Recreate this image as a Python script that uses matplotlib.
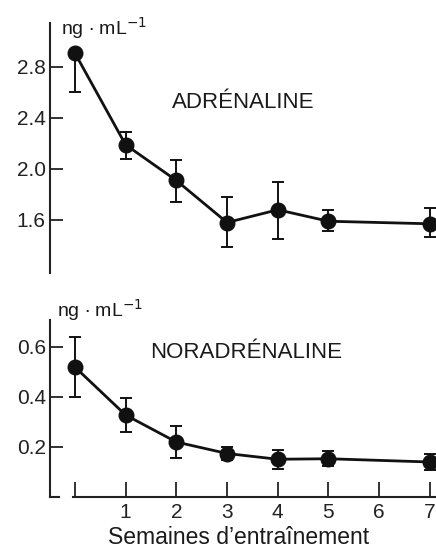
import matplotlib
matplotlib.use("Agg")
import matplotlib.pyplot as plt
from matplotlib.lines import Line2D

plt.rcParams['font.family'] = ['Liberation Sans', 'DejaVu Sans']

weeks = [0, 1, 2, 3, 4, 5, 7]
adr_mean = [2.91, 2.19, 1.91, 1.58, 1.68, 1.59, 1.57]
adr_err_low = [0.31, 0.11, 0.17, 0.19, 0.23, 0.08, 0.10]
adr_err_high = [0.0, 0.10, 0.16, 0.20, 0.22, 0.09, 0.12]
nor_mean = [0.52, 0.328, 0.22, 0.174, 0.151, 0.153, 0.14]
nor_err = [0.12, 0.067, 0.063, 0.027, 0.038, 0.030, 0.031]
adr_ticks = [1.6, 2.0, 2.4, 2.8]
adr_ticklabels = ['1.6', '2.0', '2.4', '2.8']
nor_ticks = [0.2, 0.4, 0.6]
nor_ticklabels = ['0.2', '0.4', '0.6']
x_ticks = [0, 1, 2, 3, 4, 5, 6, 7]
x_ticklabels = ['', '1', '2', '3', '4', '5', '6', '7']

W, H = 436, 551
fig = plt.figure(figsize=(W / 100, H / 100), dpi=100)

def rect(l, t, r, b):
    return [l / W, 1 - b / H, (r - l) / W, (b - t) / H]

xlim = (-0.49, 7.12)
tc = '#1a1a1a'

ax1 = fig.add_axes(rect(50, 23, 436, 273))
ax2 = fig.add_axes(rect(50, 320, 436, 497))

style = dict(fmt='-o', color='#111111', lw=2.0, ms=10.5, elinewidth=1.4,
             capsize=4.5, capthick=1.4, clip_on=False)

ax1.errorbar(weeks, adr_mean, yerr=[adr_err_low, adr_err_high], **style)
ax2.errorbar(weeks, nor_mean, yerr=nor_err, **style)

for ax in (ax1, ax2):
    ax.set_xlim(*xlim)
    ax.spines['top'].set_visible(False)
    ax.spines['right'].set_visible(False)
    ax.spines['left'].set_linewidth(1.5)
    ax.spines['left'].set_color('#222222')
    ax.tick_params(axis='y', direction='in', length=9, width=1.3,
                   labelsize=15, colors='#222222', pad=3)

ax1.set_ylim(1.184, 3.145)
ax1.set_yticks(adr_ticks)
ax1.set_yticklabels(adr_ticklabels)
ax1.spines['bottom'].set_visible(False)
ax1.set_xticks([])

ax2.set_ylim(0, 0.708)
ax2.set_yticks(nor_ticks)
ax2.set_yticklabels(nor_ticklabels)
ax2.spines['bottom'].set_bounds(-0.04, xlim[1])
ax2.spines['bottom'].set_linewidth(1.5)
ax2.spines['bottom'].set_color('#222222')
ax2.set_xticks(x_ticks)
ax2.set_xticklabels(x_ticklabels)
ax2.tick_params(axis='x', direction='in', length=11, width=1.3,
                labelsize=15, colors='#222222', pad=4)
# small foot at the bottom of the y axis
ax2.add_line(Line2D([0, 9 / 386], [0, 0], transform=ax2.transAxes,
                    color='#222222', lw=1.5, clip_on=False))

fig.text(61 / W, 1 - 28 / H, 'ng \u2219 mL$^{-1}$', fontsize=14, color=tc, va='center', ha='left')
fig.text(57 / W, 1 - 310 / H, 'ng \u2219 mL$^{-1}$', fontsize=14, color=tc, va='center', ha='left')
fig.text(172 / W, 1 - 102 / H, 'ADRÉNALINE', fontsize=16, color=tc, va='center', ha='left')
fig.text(150 / W, 1 - 353 / H, 'NORADRÉNALINE', fontsize=16, color=tc, va='center', ha='left')
fig.text(239 / W, 1 - 538 / H, 'Semaines d\u2019entraînement', fontsize=16.5, color=tc,
         va='center', ha='center')

fig.savefig('out.png', dpi=100, facecolor='white')
